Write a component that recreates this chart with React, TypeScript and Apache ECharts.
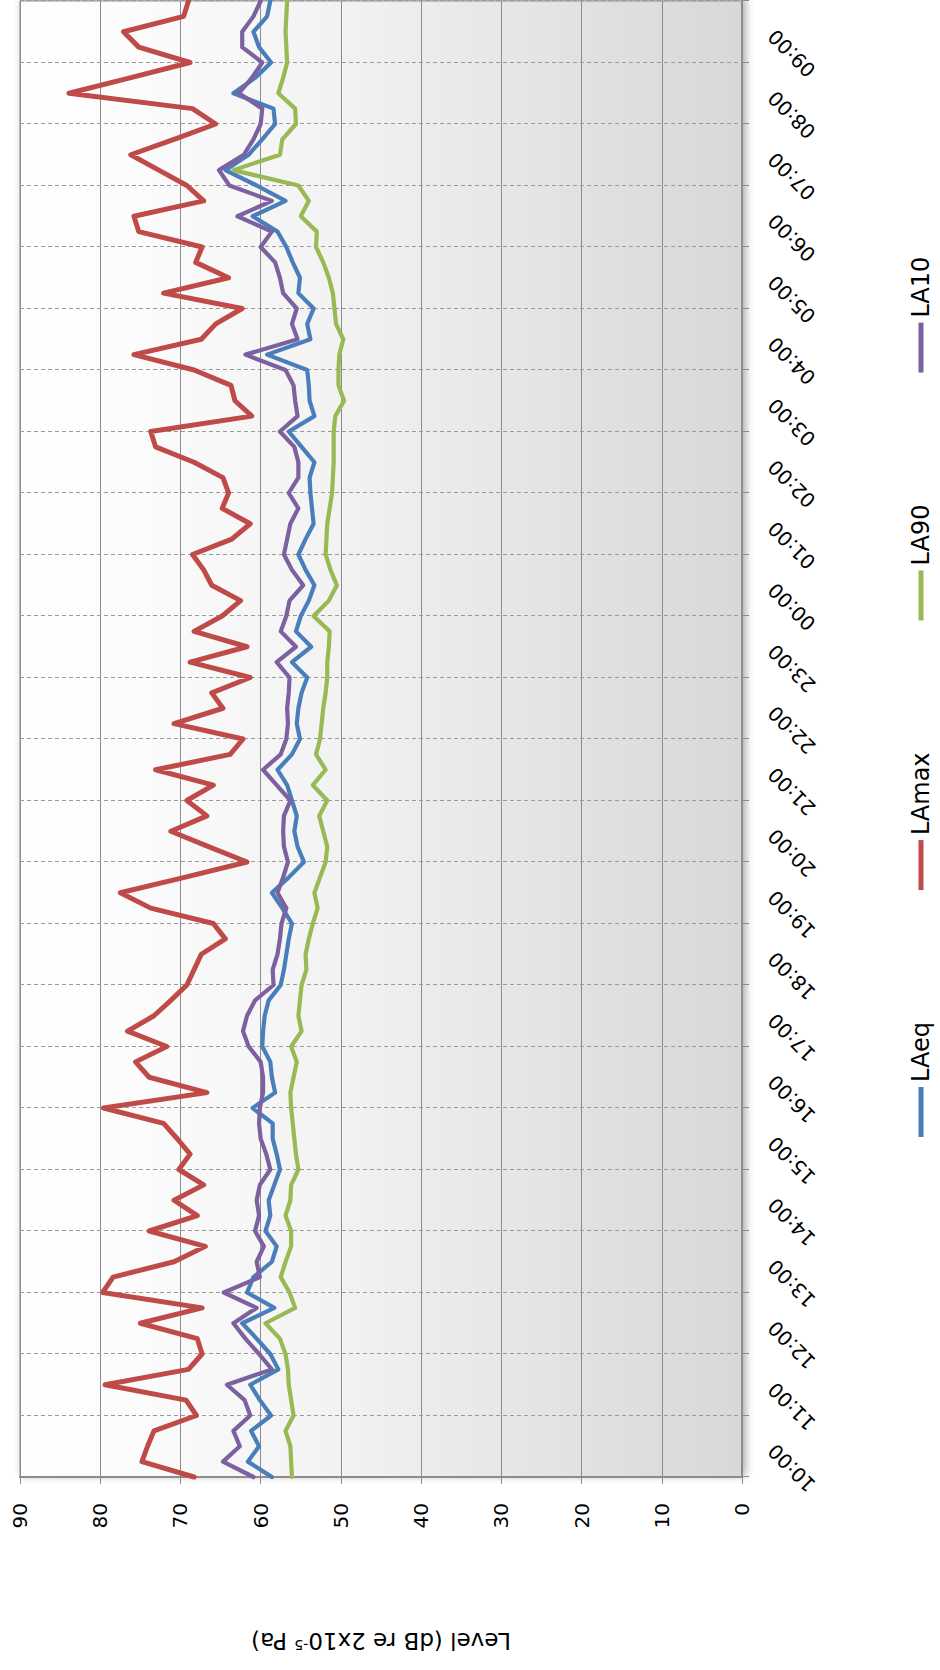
import React, { useEffect, useRef } from "react";
import * as echarts from "echarts";

// Time stamps (15-minute steps, 10:00 to 10:00 next day)
const times: string[] = [
  "10:00","10:15","10:30","10:45","11:00","11:15","11:30","11:45",
  "12:00","12:15","12:30","12:45","13:00","13:15","13:30","13:45",
  "14:00","14:15","14:30","14:45","15:00","15:15","15:30","15:45",
  "16:00","16:15","16:30","16:45","17:00","17:15","17:30","17:45",
  "18:00","18:15","18:30","18:45","19:00","19:15","19:30","19:45",
  "20:00","20:15","20:30","20:45","21:00","21:15","21:30","21:45",
  "22:00","22:15","22:30","22:45","23:00","23:15","23:30","23:45",
  "00:00","00:15","00:30","00:45","01:00","01:15","01:30","01:45",
  "02:00","02:15","02:30","02:45","03:00","03:15","03:30","03:45",
  "04:00","04:15","04:30","04:45","05:00","05:15","05:30","05:45",
  "06:00","06:15","06:30","06:45","07:00","07:15","07:30","07:45",
  "08:00","08:15","08:30","08:45","09:00","09:15","09:30","09:45",
  "10:00",
];

const LAeq: number[] = [
  58.6, 61.6, 60.2, 61.2, 58.7, 60.1, 61.3, 57.8,
  58.8, 60.5, 62.3, 58.3, 61.7, 60.9, 58.6, 58.0,
  59.4, 58.8, 59.0, 58.3, 57.6, 58.0, 58.5, 58.5,
  61.0, 58.2, 58.6, 58.8, 59.8, 59.7, 59.5, 59.0,
  57.5, 57.1, 56.8, 56.5, 56.1, 57.3, 58.6, 56.5,
  54.6, 55.4, 55.8, 55.5, 56.1, 56.7, 57.9, 56.1,
  55.1, 55.5, 55.3, 54.9, 54.2, 56.1, 53.7, 55.6,
  55.0, 54.0, 53.3, 54.4, 55.3, 54.4, 53.4, 53.6,
  53.8, 53.9, 53.3, 54.9, 56.5, 53.3, 53.9, 54.0,
  54.2, 59.2, 53.8, 54.2, 53.4, 55.3, 55.1, 56.0,
  56.8, 57.9, 61.0, 56.9, 60.5, 64.4, 61.5, 59.8,
  58.2, 58.4, 63.4, 60.7, 58.7, 60.2, 60.9, 59.2,
  58.8,
];

const LAmax: number[] = [
  68.3, 74.8, 74.1, 73.3, 68.0, 69.3, 79.4, 69.0,
  67.3, 67.9, 75.0, 67.3, 79.7, 78.4, 70.8, 66.9,
  73.9, 67.9, 70.8, 67.1, 70.2, 68.8, 70.4, 72.1,
  79.6, 66.7, 73.9, 75.6, 71.7, 76.6, 73.3, 71.2,
  69.2, 68.3, 67.4, 64.4, 65.9, 73.7, 77.5, 69.5,
  61.7, 66.5, 71.2, 66.7, 69.2, 65.9, 73.1, 63.8,
  62.2, 70.8, 64.7, 66.1, 61.3, 68.8, 61.7, 68.3,
  64.8, 62.5, 66.1, 67.1, 68.5, 63.6, 61.3, 64.8,
  64.0, 64.7, 68.3, 73.1, 73.7, 61.1, 63.2, 63.7,
  68.3, 75.8, 67.4, 65.6, 62.3, 72.1, 64.0, 68.1,
  67.3, 75.2, 75.8, 67.1, 69.2, 72.7, 76.2, 70.8,
  65.6, 68.5, 83.9, 76.3, 68.8, 75.2, 77.1, 69.6,
  69.0,
];

const LA90: number[] = [
  56.1, 56.2, 56.3, 56.9, 55.9, 56.2, 56.5, 56.6,
  56.9, 57.6, 59.4, 55.7, 56.4, 57.5, 56.9, 56.2,
  56.2, 56.9, 56.3, 56.2, 55.3, 55.6, 55.8, 56.0,
  56.2, 56.3, 55.9, 55.5, 56.2, 54.9, 55.3, 55.1,
  54.9, 54.3, 54.4, 54.0, 53.5, 52.9, 53.3, 52.6,
  51.9, 51.7, 52.2, 52.7, 51.7, 53.5, 51.9, 53.1,
  52.6, 52.4, 52.2, 51.9, 51.7, 51.7, 51.5, 51.4,
  53.4, 51.5, 50.5, 51.3, 51.9, 51.8, 51.7, 51.4,
  51.1, 51.0, 50.9, 50.9, 50.9, 50.7, 49.6, 50.3,
  50.3, 50.2, 49.7, 50.6, 50.8, 51.0, 51.5, 52.2,
  53.1, 53.0, 55.0, 54.0, 55.3, 63.4, 57.6, 57.3,
  55.6, 55.7, 57.8, 57.2, 56.7, 56.8, 56.9, 56.8,
  56.7,
];

const LA10: number[] = [
  60.9, 64.7, 62.6, 63.4, 61.3, 62.0, 64.2, 58.6,
  60.2, 61.9, 63.4, 60.5, 64.6, 60.1, 60.5, 59.6,
  60.7, 60.2, 60.5, 60.1, 58.8, 59.3, 60.0, 60.2,
  60.1, 59.7, 59.7, 60.0, 61.5, 62.2, 61.7, 60.7,
  58.4, 58.5, 57.9, 57.6, 57.4, 56.8, 57.9, 57.2,
  56.6, 57.1, 57.2, 57.1, 56.3, 58.0, 59.7, 57.5,
  56.8, 56.6, 56.7, 56.5, 56.4, 58.0, 55.6, 57.5,
  56.8, 56.4, 54.7, 56.1, 57.1, 56.7, 56.3, 55.3,
  56.5, 55.3, 55.3, 55.8, 57.6, 55.4, 55.7, 55.9,
  56.9, 61.9, 55.4, 56.1, 55.5, 57.2, 57.6, 58.2,
  60.0, 58.6, 62.9, 58.6, 63.9, 65.2, 62.1, 60.9,
  60.0, 59.8, 62.7, 61.1, 59.8, 62.3, 62.3, 60.9,
  60.0,
];

const seriesNames = ["LAeq", "LAmax", "LA90", "LA10"];
const seriesData = [LAeq, LAmax, LA90, LA10];
const seriesColors = ["#4A7EBB", "#BE4B48", "#98B954", "#7D60A0"];
const seriesWidths = [4.2, 5, 4.2, 4.2];

const FONT = "DejaVu Sans";
const GRID_COLOR = "#8c8c8c";

export default function App() {
  const ref = useRef<HTMLDivElement>(null);

  useEffect(() => {
    if (!ref.current) return;
    const chart = echarts.init(ref.current, undefined, { renderer: "svg" });
    const option: any = {
      animation: false,
      color: seriesColors,
      grid: {
        show: true,
        left: 193,
        right: 1,
        top: 20,
        bottom: 198,
        outerBoundsMode: "none",
        borderWidth: 1,
        borderColor: GRID_COLOR,
        backgroundColor: new echarts.graphic.LinearGradient(0, 0, 0, 1, [
          { offset: 0, color: "#ffffff" },
          { offset: 0.15, color: "#fcfcfc" },
          { offset: 0.45, color: "#f2f2f2" },
          { offset: 0.7, color: "#e5e5e5" },
          { offset: 1, color: "#d8d8d8" },
        ]),
        shadowColor: "rgba(0,0,0,0.35)",
        shadowBlur: 8,
        shadowOffsetX: 2,
        shadowOffsetY: 3,
      },
      legend: {
        left: 528,
        top: 903,
        itemGap: 132,
        itemWidth: 50,
        itemHeight: 5,
        icon: "rect",
        textStyle: { fontFamily: FONT, fontSize: 24, color: "#000", lineHeight: 26 },
        data: seriesNames,
      },
      xAxis: {
        type: "category",
        boundaryGap: false,
        data: times,
        axisLine: { show: true, lineStyle: { color: GRID_COLOR, width: 2 } },
        axisTick: {
          show: true,
          length: 7,
          interval: (i: number) => i % 4 === 0,
          lineStyle: { color: GRID_COLOR, width: 1 },
        },
        splitLine: {
          show: true,
          interval: (i: number) => i % 4 === 0,
          lineStyle: { color: "#9a9a9a", width: 1, type: [4, 3] },
        },
        axisLabel: {
          interval: (i: number) => i % 4 === 0 && i < times.length - 1,
          rotate: 45,
          align: "center",
          verticalAlign: "middle",
          padding: [0, 0, 0, 26],
          margin: 59,
          fontFamily: FONT,
          fontSize: 20,
          color: "#000",
        },
      },
      yAxis: {
        type: "value",
        min: 0,
        max: 90,
        interval: 10,
        name: "{a|Level (dB re 2x10}{b|-5}{a| Pa)}",
        nameLocation: "middle",
        nameGap: 152,
        nameTextStyle: {
          rich: {
            a: { fontFamily: FONT, fontSize: 23, color: "#000" },
            b: { fontFamily: FONT, fontSize: 14, color: "#000", verticalAlign: "top" },
          },
        },
        axisLine: { show: true, lineStyle: { color: GRID_COLOR, width: 2 } },
        axisTick: { show: true, length: 7, lineStyle: { color: GRID_COLOR, width: 1 } },
        splitLine: { show: true, lineStyle: { color: GRID_COLOR, width: 1 } },
        axisLabel: { margin: 26, fontFamily: FONT, fontSize: 20, color: "#000" },
      },
      series: seriesNames.map((name, i) => ({
        name,
        type: "line",
        data: seriesData[i],
        symbol: "none",
        showSymbol: false,
        lineStyle: { color: seriesColors[i], width: seriesWidths[i], cap: "round", join: "round" },
        itemStyle: { color: seriesColors[i] },
        z: 2 + i,
      })),
    };
    chart.setOption(option);
    return () => chart.dispose();
  }, []);

  return (
    <div
      style={{
        position: "absolute",
        left: 0,
        top: 0,
        width: 940,
        height: 1670,
        overflow: "hidden",
        background: "#fff",
      }}
    >
      <div
        ref={ref}
        style={{
          position: "absolute",
          left: 0,
          top: 0,
          width: 1670,
          height: 940,
          transformOrigin: "0 0",
          transform: "translate(0px, 1670px) rotate(-90deg)",
        }}
      />
    </div>
  );
}
